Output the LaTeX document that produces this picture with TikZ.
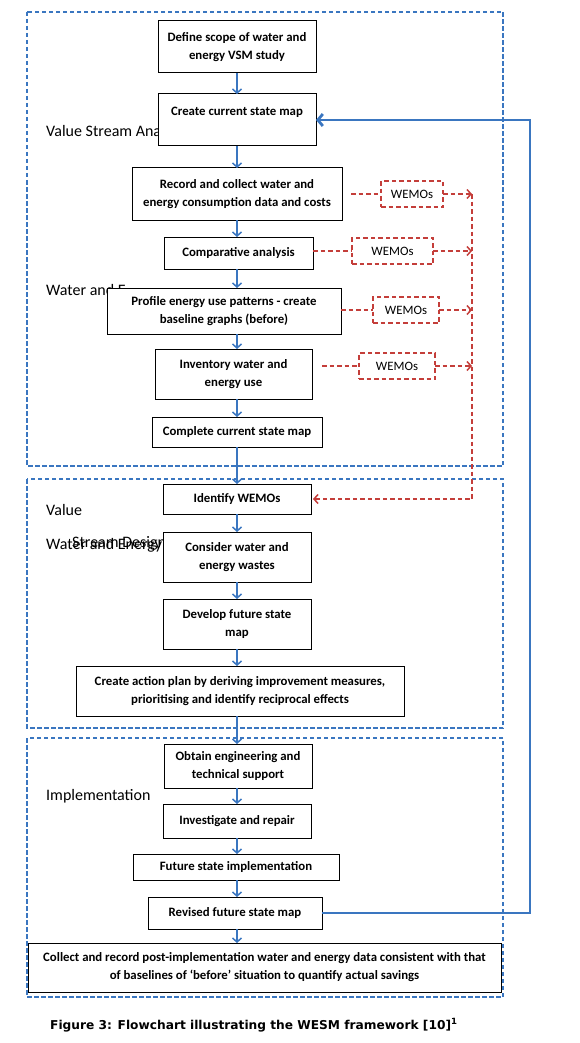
\documentclass[tikz,border=0pt]{standalone}
\usepackage{fontspec}
\setmainfont{Carlito}
\newfontfamily\capfont{DejaVu Sans}
\usetikzlibrary{positioning,arrows.meta}
\definecolor{wesmblue}{RGB}{58,118,192}
\definecolor{wesmred}{RGB}{196,62,58}

\begin{document}
\begin{tikzpicture}[
  x=1pt, y=-1pt,
  every node/.style={inner sep=2pt},
  stepbox/.style={draw, fill=white, line width=1pt, outer sep=0pt, align=center, font=\bfseries\fontsize{12.8}{18}\selectfont},
  wemobox/.style={draw=wesmred, line width=1.5pt, dash pattern=on 4.5pt off 3pt, minimum height=26pt, outer sep=0pt, font=\fontsize{12.8}{14}\selectfont},
  phase/.style={anchor=base west, font=\fontsize{16}{19}\selectfont},
  groupbox/.style={draw=wesmblue, line width=1.5pt, dash pattern=on 4.5pt off 2.5pt},
  flow/.style={-{Straight Barb[length=4pt,width=9pt]}, wesmblue, line width=1.5pt},
  wemoline/.style={wesmred, line width=1.5pt, dash pattern=on 4.5pt off 3pt},
  wemoarrow/.style={wemoline, -{Straight Barb[length=4pt,width=9pt]}},
  feedback/.style={-{Straight Barb[length=5pt,width=12pt]}, wesmblue, line width=2.8pt}
]
\useasboundingbox (0,0) rectangle (580,1043);

% phases
\draw[groupbox] (27,12) rectangle (503,466);
\draw[groupbox] (27,479) rectangle (503,728);
\draw[groupbox] (27,738) rectangle (503,997);
\node[phase] (analysis) at (44,137) {Value Stream Ana};
\node[phase] (wateran) at (44,295) {Water and E};
\node[phase] (value) at (44,515) {Value};
\node[phase] (waterdesign) at (44,549) {Water and Energy};
\node[phase] (design) at (70,547) {Stream Design};
\node[phase] (implementation) at (44,800) {Implementation};

\coordinate (spine) at (237,0);
\coordinate (rail) at (472,0);
\coordinate (back) at (530,0);

% steps
\node[stepbox, minimum width=158pt, minimum height=52pt] (scope) at (237,47) {Define scope of water and\\energy VSM study};
\node[stepbox, minimum width=158pt, minimum height=52pt, below=21pt of scope] (current) {Create current state map\\\mbox{}};
\node[stepbox, minimum width=210pt, minimum height=52pt, below=22pt of current] (record) {Record and collect water and\\energy consumption data and costs};
\node[stepbox, minimum width=149pt, minimum height=32pt, below=17pt of record, xshift=1.5pt] (compare) {Comparative analysis};
\node[stepbox, minimum width=234pt, minimum height=46pt, below=19pt of compare, xshift=-14.5pt] (profile) {Profile energy use patterns - create\\baseline graphs (before)};
\node[stepbox, minimum width=157pt, minimum height=50pt, below=15pt of profile, xshift=9.5pt] (inventory) {Inventory water and\\energy use};
\node[stepbox, minimum width=170pt, minimum height=30pt, below=18pt of inventory, xshift=3.5pt] (complete) {Complete current state map};
\node[stepbox, minimum width=148pt, minimum height=30pt, below=37pt of complete] (identify) {Identify WEMOs};
\node[stepbox, minimum width=148pt, minimum height=50pt, below=18pt of identify] (wastes) {Consider water and\\energy wastes};
\node[stepbox, minimum width=148pt, minimum height=50pt, below=17pt of wastes] (future) {Develop future state\\map};
\node[stepbox, minimum width=328pt, minimum height=50pt, below=17pt of future, xshift=3pt] (action) {Create action plan by deriving improvement measures,\\prioritising and identify reciprocal effects};
\node[stepbox, minimum width=148pt, minimum height=44pt, below=28pt of action, xshift=-2pt] (support) {Obtain engineering and\\technical support};
\node[stepbox, minimum width=148pt, minimum height=34pt, below=16pt of support, xshift=-1pt] (repair) {Investigate and repair};
\node[stepbox, minimum width=206pt, minimum height=26pt, below=16pt of repair, xshift=-1pt] (implement) {Future state implementation};
\node[stepbox, minimum width=174pt, minimum height=32pt, below=17pt of implement, xshift=-1pt] (revised) {Revised future state map};
\node[stepbox, minimum width=473pt, minimum height=49pt, below=14pt of revised, xshift=29.5pt] (savings) {Collect and record post-implementation water and energy data consistent with that\\of baselines of ‘before’ situation to quantify actual savings};

% WEMOs
\node[wemobox, minimum width=62pt, right=39pt of record] (wemo1) {WEMOs};
\node[wemobox, minimum width=81pt, right=39pt of compare, yshift=2pt] (wemo2) {WEMOs};
\node[wemobox, minimum width=66pt, right=32pt of profile, yshift=1pt] (wemo3) {WEMOs};
\node[wemobox, minimum width=76pt, right=47pt of inventory, yshift=8pt] (wemo4) {WEMOs};

\draw[flow] (scope.south -| spine) -- (current.north -| spine);
\draw[flow] (current.south -| spine) -- (record.north -| spine);
\draw[flow] (record.south -| spine) -- (compare.north -| spine);
\draw[flow] (compare.south -| spine) -- (profile.north -| spine);
\draw[flow] (profile.south -| spine) -- (inventory.north -| spine);
\draw[flow] (inventory.south -| spine) -- (complete.north -| spine);
\draw[flow] (complete.south -| spine) -- (identify.north -| spine);
\draw[flow] (identify.south -| spine) -- (wastes.north -| spine);
\draw[flow] (wastes.south -| spine) -- (future.north -| spine);
\draw[flow] (future.south -| spine) -- (action.north -| spine);
\draw[flow] (action.south -| spine) -- (support.north -| spine);
\draw[flow] (support.south -| spine) -- (repair.north -| spine);
\draw[flow] (repair.south -| spine) -- (implement.north -| spine);
\draw[flow] (implement.south -| spine) -- (revised.north -| spine);
\draw[flow] (revised.south -| spine) -- (savings.north -| spine);

\draw[wemoline, shorten <=9pt] (record.east |- wemo1) -- (wemo1);
\draw[wemoline] (compare.east |- wemo2) -- (wemo2);
\draw[wemoline] (profile.east |- wemo3) -- (wemo3);
\draw[wemoline, shorten <=10pt] (inventory.east |- wemo4) -- (wemo4);
\draw[wemoarrow] (wemo1) -- (wemo1 -| rail);
\draw[wemoarrow] (wemo2) -- (wemo2 -| rail);
\draw[wemoarrow] (wemo3) -- (wemo3 -| rail);
\draw[wemoarrow] (wemo4) -- (wemo4 -| rail);
\draw[wemoarrow, shorten >=2pt] (rail |- wemo1) -- (rail |- identify) -- (identify);

\draw[feedback] (revised.east) -- (revised.east -| back) |- (current.east);

\node[anchor=base west, font=\capfont\bfseries\fontsize{12.2}{15}\selectfont] (caption) at (48,1029) {Figure 3: Flowchart illustrating the WESM framework [10]\textsuperscript{1}};
\end{tikzpicture}
\end{document}
